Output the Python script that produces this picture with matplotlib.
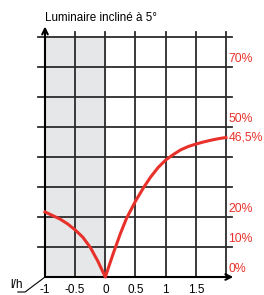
import matplotlib.pyplot as plt

# courbe (l/h, %)
x_vals = [-1.0, -0.75, -0.625, -0.5, -0.375, -0.25, -0.125, 0.0, 0.125, 0.25,
          0.35, 0.5, 0.64, 0.75, 0.875, 1.0, 1.125, 1.25, 1.375, 1.5, 1.625,
          1.75, 1.875, 2.0]
y_vals = [21.7, 19.3, 17.7, 15.7, 13.3, 9.9, 5.3, 0.0, 7.5, 14.5,
          19.5, 25.3, 30.0, 33.3, 36.5, 39.0, 40.8, 42.4, 43.5, 44.3, 45.0,
          45.6, 46.1, 46.5]

x_ticks = [-1, -0.5, 0, 0.5, 1, 1.5]
x_labels = ['-1', '-0.5', '0', '0.5', '1', '1.5']
y_grid = [0, 10, 20, 30, 40, 50, 60, 70, 80]
pct_vals = [0, 10, 20, 50, 70]
pct_labels = ['0%', '10%', '20%', '50%', '70%']
end_label = '46,5%'

font = ['Liberation Sans', 'DejaVu Sans']
red = '#e8312a'
gridc = '#2b2b2b'

fig = plt.figure(figsize=(2.64, 2.95), dpi=100, facecolor='white')
ax = fig.add_axes([45 / 264, 18 / 295, 181 / 264, 240 / 295])
ax.set_xlim(-1, 2)
ax.set_ylim(0, 80)
ax.axis('off')

# zone grisée
ax.axvspan(-1, 0, color='#e6e7e9', zorder=0)

# grille
for y in y_grid[1:]:
    ax.plot([-1.12, 2.1], [y, y], color=gridc, lw=1.3, clip_on=False, zorder=1)
for x in [-0.5, 0, 0.5, 1, 1.5, 2]:
    ax.plot([x, x], [0, 81.7], color=gridc, lw=1.3, clip_on=False, zorder=1)

# axes avec flèches
ax.annotate('', xy=(-1, 83.5), xytext=(-1, 0), xycoords='data',
            arrowprops=dict(arrowstyle='->', color='black', lw=1.5,
                            shrinkA=0, shrinkB=0), annotation_clip=False)
ax.annotate('', xy=(2.12, 0), xytext=(-1, 0), xycoords='data',
            arrowprops=dict(arrowstyle='->', color='black', lw=1.5,
                            shrinkA=0, shrinkB=0), annotation_clip=False)

# courbe
ax.plot(x_vals, y_vals, color=red, lw=2.2, zorder=3, clip_on=False,
        solid_joinstyle='round')

# étiquettes
for x, lab in zip(x_ticks, x_labels):
    ax.text(x, -4.4, lab, ha='center', va='center', fontsize=8.5, family=font)
for v, lab in zip(pct_vals, pct_labels):
    ax.text(2.04, v + 0.8, lab, ha='left', va='bottom', fontsize=8.8,
            color=red, family=font)
ax.text(2.04, y_vals[-1], end_label, ha='left', va='center', fontsize=8.8,
        color=red, family=font)

ax.text(-1, 86.3, 'Luminaire incliné à 5°', ha='left', va='center',
        fontsize=8.4, family=font)

# l/h
ax.plot([-1.45, -1.33, -1.0], [-5.0, -5.0, 0], color='black', lw=0.8,
        clip_on=False)
ax.text(-1.58, -2.6, 'l/h', ha='left', va='center', fontsize=8.5, family=font)

fig.savefig('out.png', dpi=100)
